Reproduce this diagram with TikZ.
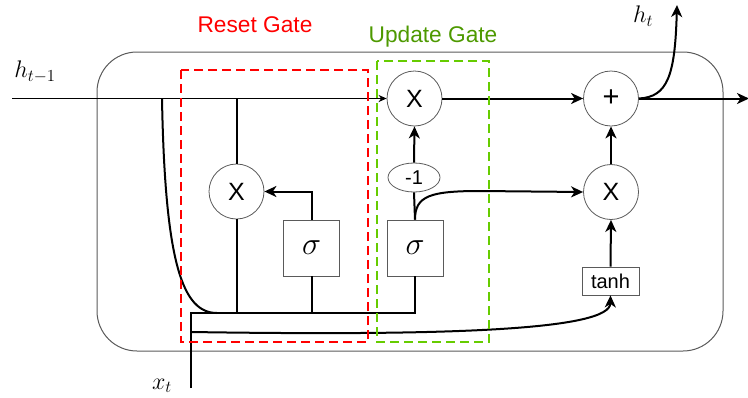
\RequirePackage{fix-cm}
\documentclass[tikz,border=0pt]{standalone}
\usepackage{fontspec}
\setmainfont{Liberation Sans}
\usetikzlibrary{arrows.meta,shapes.geometric}
\definecolor{gatered}{RGB}{255,0,0}
\definecolor{gategreen}{RGB}{102,204,0}
\definecolor{gatelabelgreen}{RGB}{77,153,0}
\definecolor{outlinegray}{RGB}{90,90,90}
\begin{document}
\begin{tikzpicture}[x=1pt,y=-1pt,
  op/.style={circle,draw=outlinegray,line width=0.8pt,minimum size=55pt,inner sep=0pt,font=\fontsize{25}{28}\selectfont},
  sigbox/.style={rectangle,draw=outlinegray,line width=0.8pt,minimum width=56pt,minimum height=56pt,inner sep=0pt,font=\fontsize{32}{36}\selectfont},
  smallbox/.style={rectangle,draw=outlinegray,line width=0.8pt,minimum width=57pt,minimum height=28pt,inner sep=0pt,font=\fontsize{20}{22}\selectfont},
  negnode/.style={ellipse,draw=outlinegray,line width=0.8pt,minimum width=52pt,minimum height=29pt,inner sep=0pt,font=\fontsize{20}{22}\selectfont},
  wire/.style={line width=2pt},
  arr/.style={wire,-{Stealth[length=12pt,width=11pt,inset=3.5pt]}},
  thinarr/.style={line width=1.3pt,-{Stealth[length=8pt,width=7pt,inset=2.5pt]}},
  mathlbl/.style={font=\fontsize{24}{28}\selectfont,inner sep=0pt},
  gatelbl/.style={font=\fontsize{22.7}{26}\selectfont,anchor=base,inner sep=0pt},
  gatebox/.style={line width=2pt,dash pattern=on 9pt off 5pt}
]
\useasboundingbox (0,0) rectangle (748,397);
% outer cell
\draw[outlinegray,line width=1pt,rounded corners=40pt] (97,52) rectangle (723,351);

% nodes
\node[op] (ux) at (414.5,98.5) {X};
\node[op,font=\fontsize{29}{32}\selectfont] (plus) at (611,98.5) {+};
\node[op] (rx) at (611,192) {X};
\node[op] (resx) at (236.5,191.5) {X};
\node[negnode] (neg) at (414,177.5) {-1};
\node[sigbox] (us) at (415,248) {$\sigma$};
\node[sigbox] (rs) at (311.5,248) {$\sigma$};
\node[smallbox] (tanh) at (610.5,281) {tanh};

% labels
\node[gatelbl,text=gatered] (rlbl) at (255,32) {Reset Gate};
\node[gatelbl,text=gatelabelgreen] (ulbl) at (433,42) {Update Gate};
\node[mathlbl] (hprev) at (35,72) {$h_{t-1}$};
\node[mathlbl] (hcur) at (643,16) {$h_t$};
\node[mathlbl] (xlbl) at (162,386) {$x_t$};

% coordinates
\coordinate (hin) at (12,98.5);
\coordinate (xt) at (191,388);
\coordinate (jb) at (191,313);
\coordinate (jb2) at (191,332);
\coordinate (cbr) at (162,98.5);
\coordinate (cbe) at (217,313);
\coordinate (rtop) at (236.5,98.5);
\coordinate (rbot) at (236.5,313);
\coordinate (sbot) at (311.5,313);
\coordinate (hout) at (749,98.5);
\coordinate (htop) at (677,5);

% wires
\draw[thinarr] (hin) -- (ux.west);
\draw[wire] (rtop) -- (resx.north);
\draw[wire] (resx.south) -- (rbot);
\draw[wire] (cbr) .. controls (165,265) and (183,313) .. (cbe);
\draw[wire] (xt) -- (jb) -| (us.south);
\draw[wire] (sbot) -- (rs.south);
\draw[arr] (rs.north) |- (resx.east);
\draw[wire] (us.north) -- (neg.south);
\draw[arr] (neg.north) -- (ux.south);
\draw[arr] (us.north) .. controls (415,196) and (430,191) .. (480,191) -- (rx.west);
\draw[arr] (jb2) .. controls (450,336) and (610,330) .. (tanh.south);
\draw[arr] (tanh.north) -- (rx.south);
\draw[arr] (rx.north) -- (plus.south);
\draw[arr] (ux.east) -- (plus.west);
\draw[arr] (plus.east) -- (hout);
\draw[arr] (plus.east) .. controls (668,97) and (675,75) .. (htop);

% gate boxes
\draw[gatebox,gatered] (181,70) rectangle (368,342);
\draw[gatebox,gategreen] (377,61) rectangle (489,342);
\end{tikzpicture}
\end{document}
